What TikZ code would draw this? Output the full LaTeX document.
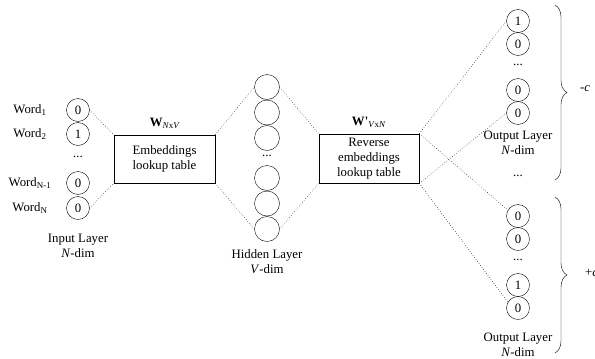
\documentclass[tikz,border=0pt]{standalone}
\usepackage{fontspec}
\setmainfont{Liberation Serif}
\usetikzlibrary{decorations.pathreplacing}
\tikzstyle{neuron} = [draw, circle, inner sep=0mm, minimum size=23bp]
\tikzstyle{hid} = [neuron, minimum size=25bp]
\tikzstyle{l} = [dotted, line width=.5bp]
\tikzstyle{tbl} = [draw, semithick, align=center, inner sep=.5mm, minimum width=100bp, minimum height=48bp]
\tikzstyle{txt} = [draw=none, inner sep=.2mm, align=center]
\tikzstyle{brc} = [decorate, decoration={brace, amplitude=12bp}]

\begin{document}
\begin{tikzpicture}[x=1bp, y=-1bp, font=\fontsize{12.8bp}{15bp}\selectfont]
                \useasboundingbox (0,0) rectangle (595,358);

                % input layer
                \foreach \n/\y/\v in {1/110/0, 2/134/1, 3/183/0, 4/208/0}
                \node[neuron] (in\n) at (78,\y) {\v};
                \foreach \n/\y/\w in {1/110/Word\textsubscript{1}, 2/134/Word\textsubscript{2}, 3/183/Word\textsubscript{N-1}, 4/208/Word\textsubscript{N}}
                \node[txt] (w\n) at (30,\y) {\w};
                \node[txt] (indots) at (78,157) {...};
                \node[txt] (inlbl) at (78,245.5) {Input Layer\\\textit{N}-dim};

                % lookup tables
                \node[tbl, minimum width=101bp] (emb) at (164.5,159) {Embeddings\\lookup table};
                \node[txt] (wemb) at (165,123) {\textbf{W}\textsubscript{\textit{N}x\textit{V}}};
                \node[tbl, minimum height=49bp] (rev) at (369,158.5) {Reverse\\embeddings\\lookup table};
                \node[txt] (wrev) at (369,122) {\textbf{W\textquotesingle}\textsubscript{\textit{V}x\textit{N}}};

                % hidden layer
                \foreach \n/\y in {1/87, 2/112.5, 3/138, 4/178, 5/203.5, 6/229}
                \node[hid] (h\n) at (267,\y) {};
                \node[txt] (hdots) at (267,156) {...};
                \node[txt] (hlbl) at (267,261.5) {Hidden Layer\\\textit{V}-dim};

                % output layers
                \foreach \n/\y/\v in {1/21/1, 2/44/0, 3/90/0, 4/113/0}
                \node[neuron] (ot\n) at (518,\y) {\v};
                \foreach \n/\y/\v in {1/216/0, 2/239/0, 3/285/1, 4/308/0}
                \node[neuron] (ob\n) at (518,\y) {\v};
                \node[txt] (otdots) at (518,65) {...};
                \node[txt] (mdots) at (518,176) {...};
                \node[txt] (obdots) at (518,260) {...};
                \node[txt] (otlbl) at (518,142.5) {Output Layer\\\textit{N}-dim};
                \node[txt] (oblbl) at (518,344.5) {Output Layer\\\textit{N}-dim};

                \foreach \f/\t in {in1.east/emb.north west, in4.east/emb.south west, emb.north east/h1.west, emb.south east/h6.west, h1.east/rev.north west, h6.east/rev.south west, rev.north east/ot1.west, rev.south east/ot4.west, rev.north east/ob1.150, rev.south east/ob4.150}
                \draw[l] (\f) -- (\t);

                % context braces
                \coordinate (bt1) at (555,5);
                \coordinate (bt2) at (555,180);
                \coordinate (bb1) at (555,197);
                \coordinate (bb2) at (555,353);
                \draw[brc] (bt1) -- (bt2);
                \draw[brc] (bb1) -- (bb2);
                \node[txt] (cneg) at (585,89) {-\textit{c}};
                \node[txt] (cpos) at (591.5,273) {+\textit{c}};
\end{tikzpicture}
\end{document}
